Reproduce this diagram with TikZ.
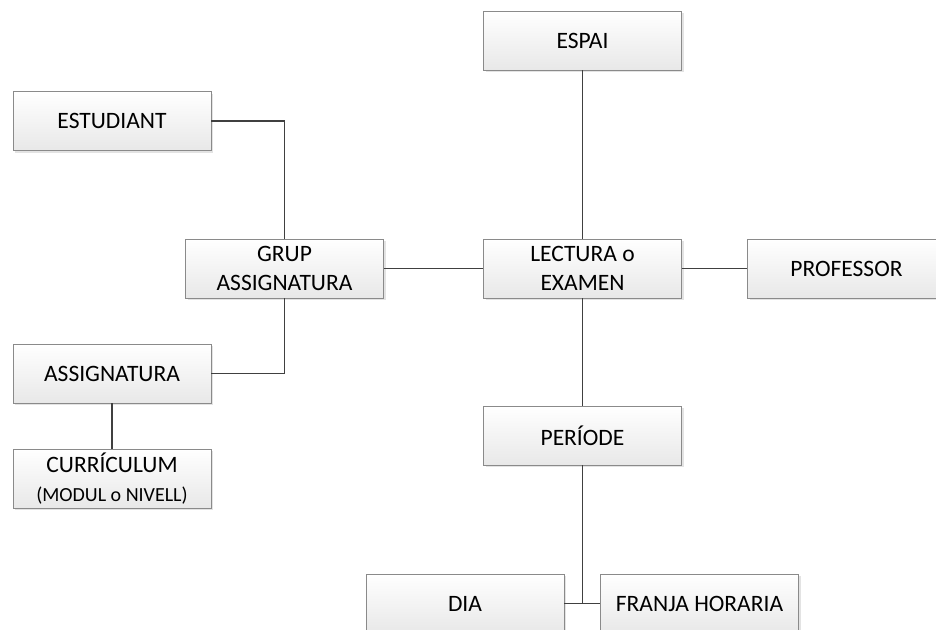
\documentclass[tikz,border=0pt]{standalone}
\usepackage{fontspec}
\setmainfont{Carlito}
\usepackage{tikz}
\usetikzlibrary{positioning,calc,shadows}
\usepackage{xcolor}
\definecolor{vora}{HTML}{8A8A8A}
\definecolor{linia}{HTML}{404040}

\tikzset{
  caixa/.style={draw=vora,line width=0.9pt,top color=white,bottom color=black!9,
    minimum width=198pt,minimum height=59pt,inner sep=0pt,align=center,
    font=\fontsize{23.5}{29}\selectfont,text=black,
    drop shadow={shadow xshift=2pt,shadow yshift=-2pt,fill=black!22}},
  enllac/.style={draw=linia,line width=1.3pt}
}

\begin{document}
\begin{tikzpicture}[x=1pt,y=-1pt]
  \useasboundingbox (0,0) rectangle (936,629);

  % caixes de la columna central
  \node[caixa] (espai) at (582.5,40.5) {ESPAI};
  \node[caixa] (lectura) at (582.5,268.5) {LECTURA o\\EXAMEN};
  \node[caixa] (professor) at (846.5,268.5) {PROFESSOR};
  \node[caixa] (periode) at (582.5,435.5) {PERÍODE};
  \node[caixa] (dia) at (465,603.5) {DIA};
  \node[caixa] (franja) at (699.5,603.5) {FRANJA HORARIA};

  % caixes de l'esquerra
  \node[caixa] (estudiant) at (112,121) {ESTUDIANT};
  \node[caixa] (grup) at (284.5,268.5) {GRUP\\ASSIGNATURA};
  \node[caixa] (assignatura) at (112,373.5) {ASSIGNATURA};
  \node[caixa] (curriculum) at (112,478.5) {CURRÍCULUM\\{\fontsize{20}{24}\selectfont (MODUL o NIVELL)}};

  % enllacos
  \draw[enllac] (espai) -- (lectura);
  \draw[enllac] (grup) -- (lectura);
  \draw[enllac] (lectura) -- (professor);
  \draw[enllac] (lectura) -- (periode);
  \draw[enllac] (estudiant.east) -| (grup.north);
  \draw[enllac] (assignatura.east) -| (grup.south);
  \draw[enllac] (assignatura) -- (curriculum);
  \coordinate (unio) at (periode.south |- dia.east);
  \draw[enllac] (periode.south) -- (unio);
  \draw[enllac] (dia.east) -- (franja.west);
\end{tikzpicture}
\end{document}
